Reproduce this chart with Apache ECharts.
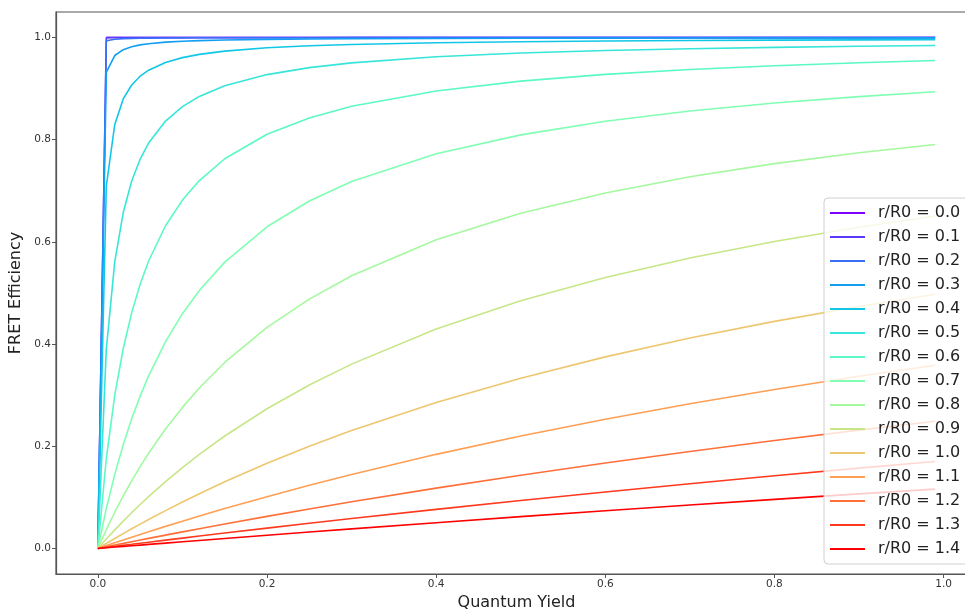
<!DOCTYPE html>
<html>
<head>
<meta charset="utf-8">
<script src="https://cdn.jsdelivr.net/npm/echarts@6/dist/echarts.min.js"></script>
<style>
html,body{margin:0;padding:0;background:#fff;}
#chart{width:965px;height:609px;}
</style>
</head>
<body>
<div id="chart"></div>
<script>
// Quantum yield sample points (x)
var quantumYield = [0, 0.01, 0.02, 0.03, 0.04, 0.05, 0.06, 0.08, 0.1, 0.12, 0.15, 0.2, 0.25, 0.3, 0.4, 0.5, 0.6, 0.7, 0.8, 0.9, 0.99];

// Series names
var seriesNames = ['r/R0 = 0.0','r/R0 = 0.1','r/R0 = 0.2','r/R0 = 0.3','r/R0 = 0.4','r/R0 = 0.5','r/R0 = 0.6','r/R0 = 0.7','r/R0 = 0.8','r/R0 = 0.9','r/R0 = 1.0','r/R0 = 1.1','r/R0 = 1.2','r/R0 = 1.3','r/R0 = 1.4'];

// FRET efficiency values per series
var e00 = ['-', 1, 1, 1, 1, 1, 1, 1, 1, 1, 1, 1, 1, 1, 1, 1, 1, 1, 1, 1, 1];
var e01 = [0, 0.9999, 1, 1, 1, 1, 1, 1, 1, 1, 1, 1, 1, 1, 1, 1, 1, 1, 1, 1, 1];
var e02 = [0, 0.9936, 0.9968, 0.9979, 0.9984, 0.9987, 0.9989, 0.9992, 0.9994, 0.9995, 0.9996, 0.9997, 0.9997, 0.9998, 0.9998, 0.9999, 0.9999, 0.9999, 0.9999, 0.9999, 0.9999];
var e03 = [0, 0.9321, 0.9648, 0.9763, 0.9821, 0.9856, 0.9880, 0.9910, 0.9928, 0.9940, 0.9952, 0.9964, 0.9971, 0.9976, 0.9982, 0.9985, 0.9988, 0.9990, 0.9991, 0.9992, 0.9993];
var e04 = [0, 0.7094, 0.8300, 0.8799, 0.9071, 0.9243, 0.9361, 0.9513, 0.9607, 0.9670, 0.9734, 0.9799, 0.9839, 0.9865, 0.9899, 0.9919, 0.9932, 0.9942, 0.9949, 0.9955, 0.9959];
var e05 = [0, 0.3902, 0.5614, 0.6575, 0.7191, 0.7619, 0.7934, 0.8366, 0.8649, 0.8848, 0.9057, 0.9275, 0.9412, 0.9505, 0.9624, 0.9697, 0.9746, 0.9782, 0.9808, 0.9829, 0.9844];
var e06 = [0, 0.1765, 0.3000, 0.3914, 0.4616, 0.5173, 0.5626, 0.6316, 0.6819, 0.7200, 0.7628, 0.8108, 0.8427, 0.8654, 0.8955, 0.9147, 0.9279, 0.9375, 0.9449, 0.9507, 0.9550];
var e07 = [0, 0.0783, 0.1453, 0.2032, 0.2537, 0.2982, 0.3377, 0.4048, 0.4595, 0.5049, 0.5604, 0.6296, 0.6800, 0.7183, 0.7727, 0.8095, 0.8361, 0.8561, 0.8718, 0.8844, 0.8938];
var e08 = [0, 0.0367, 0.0709, 0.1027, 0.1324, 0.1602, 0.1863, 0.2338, 0.2761, 0.3140, 0.3640, 0.4328, 0.4881, 0.5337, 0.6041, 0.6560, 0.6959, 0.7275, 0.7532, 0.7744, 0.7906];
var e09 = [0, 0.0185, 0.0363, 0.0534, 0.0700, 0.0860, 0.1014, 0.1308, 0.1584, 0.1842, 0.2201, 0.2734, 0.3199, 0.3608, 0.4294, 0.4848, 0.5303, 0.5684, 0.6009, 0.6287, 0.6507];
var e10 = [0, 0.0099, 0.0196, 0.0291, 0.0385, 0.0476, 0.0566, 0.0741, 0.0909, 0.1071, 0.1304, 0.1667, 0.2000, 0.2308, 0.2857, 0.3333, 0.3750, 0.4118, 0.4444, 0.4737, 0.4975];
var e11 = [0, 0.0056, 0.0112, 0.0167, 0.0221, 0.0274, 0.0328, 0.0432, 0.0534, 0.0634, 0.0781, 0.1014, 0.1237, 0.1448, 0.1842, 0.2201, 0.2530, 0.2832, 0.3111, 0.3369, 0.3585];
var e12 = [0, 0.0033, 0.0067, 0.0099, 0.0132, 0.0165, 0.0197, 0.0261, 0.0324, 0.0386, 0.0478, 0.0628, 0.0773, 0.0913, 0.1181, 0.1434, 0.1673, 0.1899, 0.2113, 0.2316, 0.2490];
var e13 = [0, 0.0021, 0.0041, 0.0062, 0.0082, 0.0103, 0.0123, 0.0163, 0.0203, 0.0243, 0.0301, 0.0398, 0.0492, 0.0585, 0.0765, 0.0939, 0.1106, 0.1267, 0.1422, 0.1572, 0.1702];
var e14 = [0, 0.0013, 0.0027, 0.0040, 0.0053, 0.0066, 0.0079, 0.0105, 0.0131, 0.0157, 0.0195, 0.0259, 0.0321, 0.0383, 0.0504, 0.0623, 0.0738, 0.0851, 0.0960, 0.1068, 0.1162];

var efficiencies = [e00, e01, e02, e03, e04, e05, e06, e07, e08, e09, e10, e11, e12, e13, e14];

var colors = ['#8000ff','#5b39fd','#376ff9','#129ff1','#12c7e6','#37e6d8','#5bf9c7','#80ffb4','#a4f99f','#c8e688','#edc76f','#ff9f54','#ff6f39','#ff391d','#ff0000'];

// Tick labels
var xTicks = [0, 0.2, 0.4, 0.6, 0.8, 1.0];
var yTicks = [0, 0.2, 0.4, 0.6, 0.8, 1.0];

var series = seriesNames.map(function (name, s) {
  return {
    name: name,
    type: 'line',
    showSymbol: false,
    symbol: 'none',
    connectNulls: false,
    animation: false,
    lineStyle: { width: 1.6, color: colors[s] },
    itemStyle: { color: colors[s] },
    data: quantumYield.map(function (q, i) { return [q, efficiencies[s][i]]; })
  };
});

var FONT = 'DejaVu Sans';
var chart = echarts.init(document.getElementById('chart'), null, { renderer: 'canvas' });
chart.setOption({
  backgroundColor: '#ffffff',
  animation: false,
  color: colors,
  grid: {
    left: 56, top: 12, width: 921, height: 562,
    outerBoundsMode: 'none',
    containLabel: false,
    show: true, borderColor: '#555', borderWidth: 1.2, backgroundColor: 'transparent'
  },
  xAxis: {
    type: 'value',
    min: -0.0495, max: 1.0395,
    name: 'Quantum Yield',
    nameLocation: 'middle',
    nameGap: 19,
    nameTextStyle: { fontFamily: FONT, fontSize: 16, color: '#222' },
    axisLine: { show: true, onZero: false, lineStyle: { color: '#555', width: 1.2 } },
    axisTick: { show: true, inside: false, length: 4, customValues: xTicks, lineStyle: { color: '#555' } },
    axisLabel: { customValues: xTicks, fontFamily: FONT, fontSize: 10.5, color: '#333', margin: 5,
      formatter: function (v) { return v.toFixed(1); } },
    splitLine: { show: false }
  },
  yAxis: {
    type: 'value',
    min: -0.05, max: 1.05,
    name: 'FRET Efficiency',
    nameLocation: 'middle',
    nameGap: 30,
    nameRotate: 90,
    nameTextStyle: { fontFamily: FONT, fontSize: 16, color: '#222' },
    axisLine: { show: true, onZero: false, lineStyle: { color: '#555', width: 1.2 } },
    axisTick: { show: true, inside: false, length: 4, customValues: yTicks, lineStyle: { color: '#555' } },
    axisLabel: { customValues: yTicks, fontFamily: FONT, fontSize: 10.5, color: '#333', margin: 5,
      formatter: function (v) { return v.toFixed(1); } },
    splitLine: { show: false }
  },
  legend: {
    orient: 'vertical',
    left: 824, top: 198,
    padding: [3, 10, 3, 6],
    itemGap: 0,
    itemWidth: 35,
    itemHeight: 2,
    icon: 'rect',
    backgroundColor: 'rgba(255,255,255,0.8)',
    borderColor: '#d0d0d0',
    borderWidth: 1,
    borderRadius: 4,
    textStyle: { fontFamily: FONT, fontSize: 16, color: '#222', lineHeight: 24, padding: [0, 0, 0, 8] },
    data: seriesNames
  },
  series: series
});
</script>
</body>
</html>
